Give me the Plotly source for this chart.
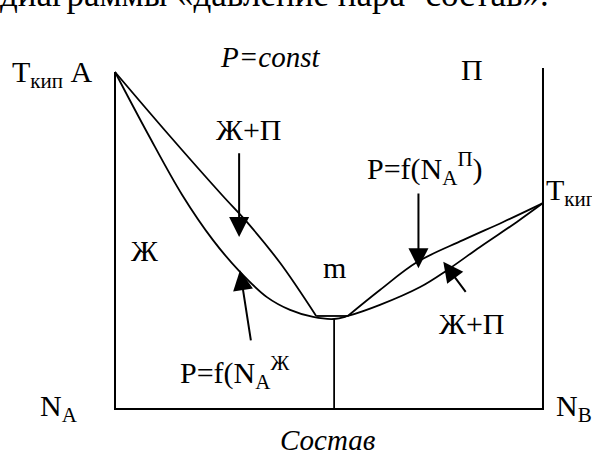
import plotly.graph_objects as go

# Boiling-point diagram at P = const with a minimum azeotrope.
# x: mole-fraction composition from pure A (0) to pure B (1)
# y: temperature in arbitrary units

frame_x = [0.0, 0.0, 1.0, 1.0]
frame_y = [100.0, 0.0, 0.0, 101.2]

azeo_x = [0.512, 0.512]
azeo_y = [0.0, 26.7]

# liquid (boiling) curve
liq_x = [0.0, 0.077, 0.157, 0.229, 0.292, 0.355, 0.409, 0.463, 0.512,
         0.544, 0.619, 0.713, 0.776, 0.853, 0.939, 1.0]
liq_y = [100.0, 81.6, 63.5, 50.1, 40.7, 33.2, 29.4, 27.3, 26.7,
         27.6, 30.9, 36.2, 41.2, 48.1, 55.5, 61.1]

# vapour (dew) curve, A side
vapL_x = [0.0, 0.124, 0.250, 0.308, 0.386, 0.470]
vapL_y = [100.0, 81.6, 63.5, 55.5, 43.3, 27.6]
# short tie near the azeotrope
tie_x = [0.470, 0.544]
tie_y = [27.6, 27.6]
# vapour (dew) curve, B side
vapR_x = [0.544, 0.619, 0.706, 0.813, 0.907, 1.0]
vapR_y = [27.6, 35.3, 43.6, 50.1, 55.5, 61.1]

# arrows: tips and tails
arrow_tip_x = [0.290, 0.292, 0.709, 0.767]
arrow_tip_y = [51.0, 41.2, 41.8, 43.7]
arrow_tail_x = [0.290, 0.318, 0.709, 0.822]
arrow_tail_y = [76.3, 19.9, 64.4, 34.3]

# text labels: (text, x, y, xanchor)
labels = [
    ("Ж+П", 0.311, 82.8, "center"),
    ("Ж", 0.068, 46.9, "center"),
    ("m", 0.514, 42.0, "center"),
    ("P=f(N<sub>A</sub><sup>Ж</sup>", 0.280, 10.7, "center"),
    ("P=f(N<sub>A</sub><sup>П</sup>)", 0.724, 71.5, "center"),
    ("Ж+П", 0.834, 25.5, "center"),
    ("П", 0.834, 100.6, "center"),
    ("T<sub>кип</sub> A", -0.245, 99.4, "left"),
    ("T<sub>кип</sub> B", 1.003, 64.4, "left"),
    ("N<sub>A</sub>", -0.180, 0.3, "left"),
    ("N<sub>B</sub>", 1.026, 0.3, "left"),
]
italic_labels = [
    ("P=const", 0.362, 104.5),
    ("Состав", 0.498, -9.2),
]
heading = "диаграммы «давление пара- состав»."

FONT = "Liberation Serif"
BLACK = "black"

fig = go.Figure()
fig.add_trace(go.Scatter(x=frame_x, y=frame_y, mode="lines",
                         line=dict(color=BLACK, width=2)))
fig.add_trace(go.Scatter(x=azeo_x, y=azeo_y, mode="lines",
                         line=dict(color=BLACK, width=1.8)))
fig.add_trace(go.Scatter(x=liq_x, y=liq_y, mode="lines",
                         line=dict(color=BLACK, width=1.8, shape="spline", smoothing=1)))
fig.add_trace(go.Scatter(x=vapL_x, y=vapL_y, mode="lines",
                         line=dict(color=BLACK, width=1.8, shape="spline", smoothing=1)))
fig.add_trace(go.Scatter(x=tie_x, y=tie_y, mode="lines",
                         line=dict(color=BLACK, width=1.8)))
fig.add_trace(go.Scatter(x=vapR_x, y=vapR_y, mode="lines",
                         line=dict(color=BLACK, width=1.8, shape="spline", smoothing=1)))

annotations = []
for tx, ty, ax, ay in zip(arrow_tip_x, arrow_tip_y, arrow_tail_x, arrow_tail_y):
    annotations.append(dict(x=tx, y=ty, ax=ax, ay=ay, xref="x", yref="y",
                            axref="x", ayref="y", text="", showarrow=True,
                            arrowhead=2, arrowsize=2, arrowwidth=2,
                            arrowcolor=BLACK, standoff=0))
for text, x, y, xa in labels:
    annotations.append(dict(x=x, y=y, xref="x", yref="y", text=text,
                            showarrow=False, xanchor=xa, yanchor="middle",
                            font=dict(family=FONT, size=30, color=BLACK)))
for text, x, y in italic_labels:
    annotations.append(dict(x=x, y=y, xref="x", yref="y", text=f"<i>{text}</i>",
                            showarrow=False, xanchor="center", yanchor="middle",
                            font=dict(family=FONT, size=29, color=BLACK)))
annotations.append(dict(x=0.0, y=1.0, xref="paper", yref="paper", text=heading,
                        showarrow=False, xanchor="left", yanchor="middle",
                        yshift=6, xshift=-2,
                        font=dict(family=FONT, size=35, color=BLACK)))

fig.update_layout(
    width=592, height=455,
    margin=dict(l=0, r=0, t=0, b=0),
    paper_bgcolor="white", plot_bgcolor="white",
    showlegend=False,
    xaxis=dict(range=[-0.2687, 1.1145], visible=False, fixedrange=True),
    yaxis=dict(range=[-13.65, 121.36], visible=False, fixedrange=True),
    annotations=annotations,
)

fig.write_html("out.html")
